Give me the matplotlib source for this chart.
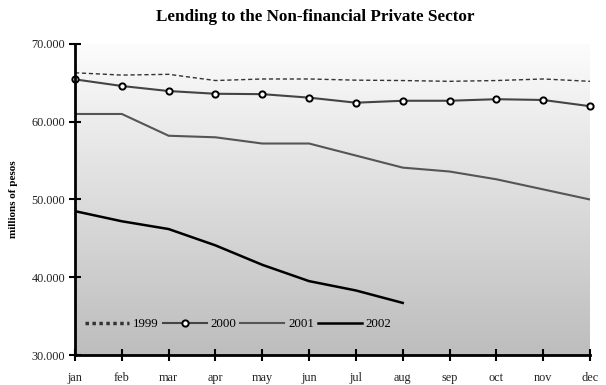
import numpy as np
import matplotlib
matplotlib.use("Agg")
import matplotlib.pyplot as plt
from matplotlib.lines import Line2D

months = ["jan", "feb", "mar", "apr", "may", "jun", "jul", "aug", "sep", "oct", "nov", "dec"]
y1999 = [66300, 66000, 66100, 65300, 65500, 65500, 65350, 65300, 65200, 65300, 65500, 65200]
y2000 = [65450, 64600, 63950, 63600, 63550, 63100, 62450, 62700, 62700, 62900, 62800, 62000]
y2001 = [61000, 61000, 58200, 58000, 57200, 57200, 55650, 54100, 53600, 52600, 51300, 50000]
y2002 = [48500, 47200, 46200, 44100, 41600, 39500, 38300, 36700]
yticks = [30000, 40000, 50000, 60000, 70000]
ytick_labels = ["30.000", "40.000", "50.000", "60.000", "70.000"]
series_names = ["1999", "2000", "2001", "2002"]

plt.rcParams['font.family'] = ['Liberation Serif', 'DejaVu Serif']

fig = plt.figure(figsize=(6.06, 3.85), dpi=100)
ax = fig.add_axes([75/606, 30/385, 515/606, 311/385])

x = np.arange(len(months))
ax.set_xlim(0, 11)
ax.set_ylim(30000, 70000)

grad = np.linspace(1.0, 0.0, 256).reshape(-1, 1)
ax.imshow(grad, aspect='auto', cmap=matplotlib.colors.LinearSegmentedColormap.from_list('g', ['#bdbdbd', '#ffffff']),
          extent=[0, 11, 30000, 72000], zorder=0, vmin=0, vmax=1, origin='upper')

ax.plot(x, y1999, color='#333333', lw=1.0, linestyle=(0, (3, 2)), zorder=3)
ax.plot(x, y2000, color='#444444', lw=1.5, marker='o', markersize=4.5, markerfacecolor='white',
        markeredgecolor='black', markeredgewidth=1.4, zorder=4, clip_on=False)
ax.plot(x, y2001, color='#555555', lw=1.5, zorder=3)
ax.plot(np.arange(len(y2002)), y2002, color='black', lw=1.8, zorder=3)

handles = [
    Line2D([], [], color='#333333', lw=2.5, linestyle=(0, (1, 1))),
    Line2D([], [], color='#444444', lw=1.5, marker='o', markersize=4.5, markerfacecolor='white',
           markeredgecolor='black', markeredgewidth=1.4),
    Line2D([], [], color='#555555', lw=1.5),
    Line2D([], [], color='black', lw=1.8),
]

ax.set_xticks(x)
ax.set_xticklabels(months)
ax.set_yticks(yticks)
ax.set_yticklabels(ytick_labels)
ax.tick_params(axis='both', direction='inout', length=8, width=1.5, labelsize=8.8, colors='black',
               labelcolor='#222222')
ax.tick_params(axis='x', pad=8)
ax.tick_params(axis='y', pad=3)

for s in ['top', 'right']:
    ax.spines[s].set_visible(False)
for s in ['left', 'bottom']:
    ax.spines[s].set_linewidth(2)
    ax.spines[s].set_zorder(5)

ax.set_ylabel('millions of pesos', fontsize=8, fontweight='bold', labelpad=10)
fig.text(0.52, 0.955, 'Lending to the Non-financial Private Sector', ha='center', va='center',
         fontsize=12.3, fontweight='bold')

leg = ax.legend(handles, series_names, loc='lower left', bbox_to_anchor=(0.005, 0.055), ncol=4,
                frameon=False, fontsize=9.3, handlelength=3.4, handletextpad=0.3, columnspacing=0.3,
                borderaxespad=0.2)

fig.savefig('out.png', dpi=100)
